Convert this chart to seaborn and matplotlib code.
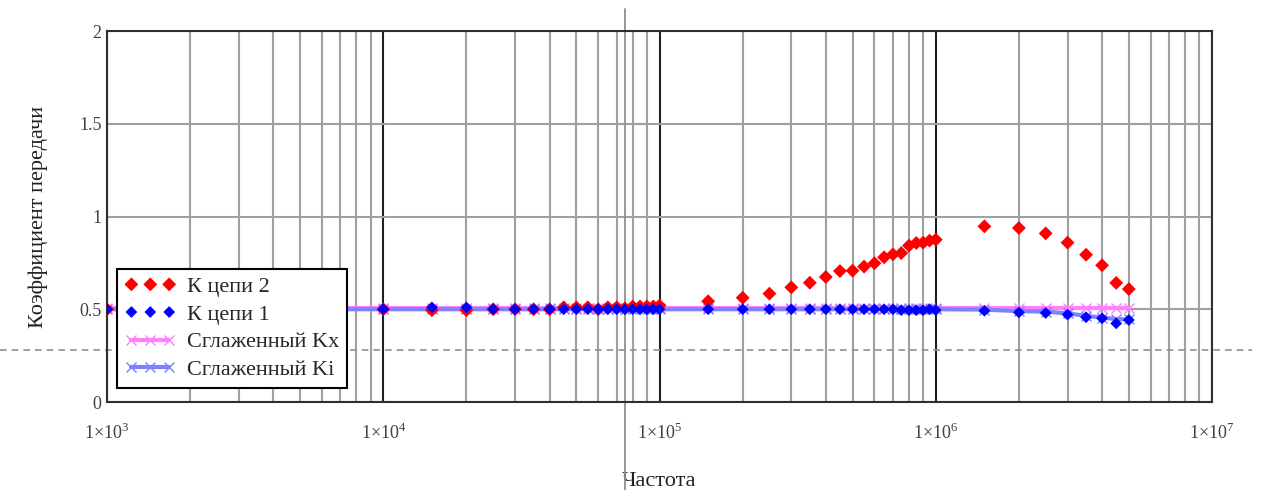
import numpy as np
import pandas as pd
import matplotlib
matplotlib.use('Agg')
import matplotlib.pyplot as plt
import seaborn as sns
from matplotlib.ticker import FixedLocator, LogLocator, NullFormatter

sns.set_style('white')
plt.rcParams['font.family'] = ['Liberation Serif', 'DejaVu Serif']
plt.rcParams['mathtext.fontset'] = 'custom'
plt.rcParams['mathtext.rm'] = 'Liberation Serif'

# frequencies (Hz)
freq = [1e3, 1e4,
        1.5e4, 2e4, 2.5e4, 3e4, 3.5e4, 4e4, 4.5e4, 5e4, 5.5e4,
        6e4, 6.5e4, 7e4, 7.5e4, 8e4, 8.5e4, 9e4, 9.5e4, 1e5,
        1.5e5, 2e5, 2.5e5, 3e5, 3.5e5, 4e5, 4.5e5, 5e5, 5.5e5,
        6e5, 6.5e5, 7e5, 7.5e5, 8e5, 8.5e5, 9e5, 9.5e5, 1e6,
        1.5e6, 2e6, 2.5e6, 3e6, 3.5e6, 4e6, 4.5e6, 5e6]

k2 = [0.50, 0.50,
      0.495, 0.495, 0.50, 0.50, 0.50, 0.50, 0.51, 0.51, 0.51,
      0.50, 0.51, 0.51, 0.505, 0.515, 0.515, 0.515, 0.515, 0.52,
      0.543, 0.562, 0.584, 0.618, 0.643, 0.674, 0.706, 0.708, 0.730,
      0.748, 0.780, 0.796, 0.803, 0.843, 0.857, 0.859, 0.870, 0.875,
      0.947, 0.938, 0.909, 0.859, 0.794, 0.737, 0.642, 0.609]

k1 = [0.50, 0.50,
      0.51, 0.51, 0.50, 0.50, 0.50, 0.50, 0.50, 0.50, 0.50,
      0.50, 0.50, 0.50, 0.50, 0.50, 0.50, 0.50, 0.50, 0.50,
      0.50, 0.50, 0.50, 0.50, 0.50, 0.50, 0.50, 0.50, 0.50,
      0.50, 0.50, 0.50, 0.495, 0.495, 0.495, 0.495, 0.50, 0.495,
      0.492, 0.483, 0.480, 0.471, 0.457, 0.451, 0.424, 0.442]

kx_smooth = [0.505, 0.505,
             0.505, 0.505, 0.505, 0.505, 0.505, 0.505, 0.505, 0.505, 0.505,
             0.505, 0.505, 0.505, 0.505, 0.505, 0.505, 0.505, 0.505, 0.505,
             0.505, 0.505, 0.505, 0.505, 0.505, 0.505, 0.505, 0.505, 0.505,
             0.505, 0.505, 0.505, 0.505, 0.505, 0.505, 0.505, 0.505, 0.505,
             0.505, 0.505, 0.505, 0.505, 0.505, 0.505, 0.505, 0.505]

ki_smooth = [0.50, 0.50,
             0.50, 0.50, 0.50, 0.50, 0.50, 0.50, 0.50, 0.50, 0.50,
             0.50, 0.50, 0.50, 0.50, 0.50, 0.50, 0.50, 0.50, 0.50,
             0.50, 0.50, 0.50, 0.50, 0.50, 0.50, 0.50, 0.50, 0.50,
             0.50, 0.50, 0.50, 0.50, 0.50, 0.50, 0.50, 0.50, 0.50,
             0.498, 0.490, 0.487, 0.478, 0.464, 0.455, 0.447, 0.445]

# cursor position of the Mathcad crosshair
cursor_x = 7.5e4
cursor_y = 0.28

df = pd.DataFrame({'f': freq, 'k2': k2, 'k1': k1, 'kx': kx_smooth, 'ki': ki_smooth})

fig = plt.figure(figsize=(12.62, 4.9), dpi=100)
ax = fig.add_axes([107/1262, 88/490, 1105/1262, 371/490])

sns.lineplot(data=df, x='f', y='ki', ax=ax, color='#8080ff', lw=3, marker='x',
             markersize=7, mew=1, mec='#8080ff', label='Сглаженный Ki', zorder=3)
sns.lineplot(data=df, x='f', y='kx', ax=ax, color='#ff80ff', lw=3, marker='x',
             markersize=7, mew=1, mec='#ff80ff', label='Сглаженный Kx', zorder=2)
sns.scatterplot(data=df, x='f', y='k2', ax=ax, color='#ff0000', marker='D', s=50,
                edgecolor='none', label='К цепи 2', zorder=4)
sns.scatterplot(data=df, x='f', y='k1', ax=ax, color='#0000ff', marker='D', s=36,
                edgecolor='none', label='К цепи 1', zorder=5)

ax.set_xscale('log')
ax.set_xlim(1e3, 1e7)
ax.set_ylim(0, 2)

# grid
ax.xaxis.set_major_locator(FixedLocator([1e3, 1e4, 1e5, 1e6, 1e7]))
ax.xaxis.set_minor_locator(LogLocator(base=10, subs=np.arange(2, 10)))
ax.xaxis.set_minor_formatter(NullFormatter())
ax.set_xticklabels(['1×10$^{3}$', '1×10$^{4}$', '1×10$^{5}$', '1×10$^{6}$', '1×10$^{7}$'])
ax.set_yticks([0, 0.5, 1, 1.5, 2])
ax.set_yticklabels(['0', '0.5', '1', '1.5', '2'])
ax.grid(True, which='major', axis='x', color='#202020', lw=1.5, zorder=0)
ax.grid(True, which='minor', axis='x', color='#a0a0a0', lw=1.5, zorder=0)
ax.grid(True, which='major', axis='y', color='#a0a0a0', lw=1.5, zorder=0)
ax.set_axisbelow(True)
ax.tick_params(axis='both', which='both', length=0, labelsize=13, colors='#404040')
ax.tick_params(axis='x', pad=15)
ax.tick_params(axis='y', pad=4)
for s in ax.spines.values():
    s.set_color('#303030')
    s.set_linewidth(1.5)

ax.set_xlabel('Частота', fontsize=16, color='#202020', labelpad=21)
ax.set_ylabel('Коэффициент передачи', fontsize=16, color='#202020', labelpad=22)

# crosshair lines
ax.axvline(cursor_x, ymin=-0.24, ymax=1.06, color='#909090', lw=1.3, clip_on=False, zorder=1)
ax.axhline(cursor_y, xmin=-0.097, xmax=1.036, color='#909090', lw=1.2, ls=(0, (4, 3)),
           clip_on=False, zorder=1)

handles, labels = ax.get_legend_handles_labels()
order = [labels.index(l) for l in ['К цепи 2', 'К цепи 1', 'Сглаженный Kx', 'Сглаженный Ki']]
leg = ax.legend([handles[i] for i in order], [labels[i] for i in order],
                loc='lower left', bbox_to_anchor=(0.009, 0.038), fontsize=16,
                frameon=True, fancybox=False, edgecolor='black', framealpha=1,
                scatterpoints=3, scatteryoffsets=[0.5], numpoints=3,
                handlelength=2.3, handletextpad=0.5,
                borderpad=0.35, labelspacing=0.32, borderaxespad=0)
leg.get_frame().set_linewidth(1.5)
leg.set_zorder(10)

plt.savefig('out.png', dpi=100)
